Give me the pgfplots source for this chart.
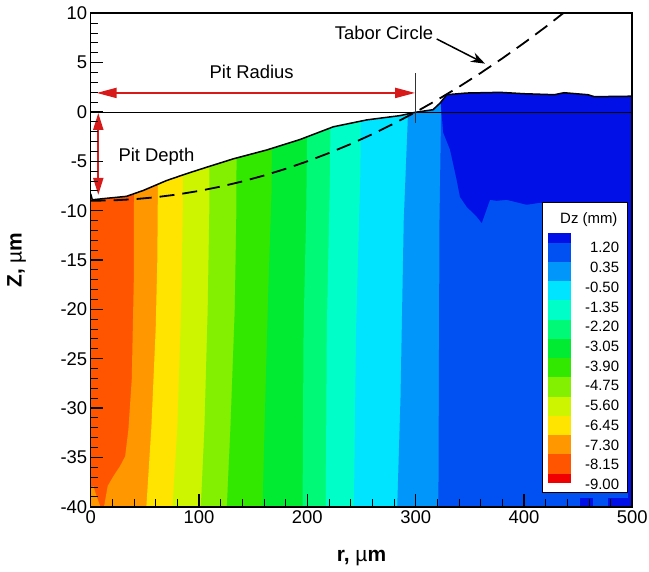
\documentclass[border=0pt]{standalone}
\usepackage{fontspec}
\setmainfont{Liberation Sans}
\usepackage{pgfplots}
\pgfplotsset{compat=1.18}
\usetikzlibrary{arrows.meta}

% contour level colours (Dz)
\definecolor{c1}{RGB}{0,16,230}
\definecolor{c2}{RGB}{0,80,242}
\definecolor{c3}{RGB}{0,150,250}
\definecolor{c4}{RGB}{0,228,255}
\definecolor{c5}{RGB}{0,255,200}
\definecolor{c6}{RGB}{0,250,120}
\definecolor{c7}{RGB}{0,235,50}
\definecolor{c8}{RGB}{50,232,0}
\definecolor{c9}{RGB}{130,240,0}
\definecolor{c10}{RGB}{205,245,0}
\definecolor{c11}{RGB}{255,228,0}
\definecolor{c12}{RGB}{255,152,0}
\definecolor{c13}{RGB}{255,85,0}
\definecolor{c14}{RGB}{240,0,0}
\definecolor{arrred}{RGB}{215,25,25}

\newcommand{\tfont}{\fontsize{18.5}{22}\selectfont}
\newcommand{\lfont}{\fontsize{21}{24}\selectfont}
\newcommand{\gfont}{\fontsize{15}{18}\selectfont}

\begin{document}
\begin{tikzpicture}
\begin{axis}[
  scale only axis,
  width=541.6bp, height=493.4bp,
  xmin=0, xmax=500, ymin=-40, ymax=10,
  xtick={0,100,...,500}, ytick={-40,-35,...,10},
  minor x tick num=4, minor y tick num=4,
  tick align=inside, tick pos=left,
  major tick length=12.7bp, minor tick length=7.7bp,
  every major tick/.append style={line width=1.6bp, black},
  every minor tick/.append style={line width=0.9bp, black},
  axis line style={line width=1.6bp},
  axis on top,
  ticklabel style={font=\tfont},
  /pgf/number format/assume math mode=true,
  xlabel={\textbf{r, }µ\textbf{m}},
  ylabel={\textbf{Z, }µ\textbf{m}},
  xlabel style={at={(axis description cs:0.5,-0.1034)}, anchor=center, font=\lfont},
  ylabel style={at={(axis description cs:-0.1366,0.5)}, anchor=center, font=\lfont},
]
% ---- contour bands, painted left to right ----
\addplot[draw=none, fill=c13] coordinates {(0,-40) (500,-40) (500,10) (0,10)} -- cycle;
\addplot[draw=none, fill=c12] coordinates {(12.3,-40) (15.7,-37.9) (21,-36.9) (27,-35.9) (31.8,-34.9) (34.8,-32.2) (37.9,-27.1) (39.8,-17) (40,-8) (40,10) (500,10) (500,-40)} -- cycle;
\addplot[draw=none, fill=c12] coordinates {(0,-40) (0,-38.2) (2.5,-37.9) (5,-38.8) (9,-40)} -- cycle;
\addplot[draw=none, fill=c11] coordinates {(51.4,-40) (56,-32) (60,-22) (61.5,-15) (62,-8) (62,10) (500,10) (500,-40)} -- cycle;
\addplot[draw=none, fill=c10] coordinates {(75.5,-40) (80,-32) (83.5,-20) (85,-10) (85,10) (500,10) (500,-40)} -- cycle;
\addplot[draw=none, fill=c9] coordinates {(101.7,-40) (105,-32) (108,-20) (109.5,-10) (110,10) (500,10) (500,-40)} -- cycle;
\addplot[draw=none, fill=c8] coordinates {(125.7,-40) (129,-32) (133,-20) (134.5,-10) (135,10) (500,10) (500,-40)} -- cycle;
\addplot[draw=none, fill=c7] coordinates {(158.7,-40) (161,-30) (164,-18) (167,-8) (168,10) (500,10) (500,-40)} -- cycle;
\addplot[draw=none, fill=c6] coordinates {(195.6,-40) (196.5,-22) (199,-10) (201,10) (500,10) (500,-40)} -- cycle;
\addplot[draw=none, fill=c5] coordinates {(217,-40) (218,-22) (221,-6) (222,10) (500,10) (500,-40)} -- cycle;
\addplot[draw=none, fill=c4] coordinates {(243,-40) (245,-22) (249,-6) (250,10) (500,10) (500,-40)} -- cycle;
\addplot[draw=none, fill=c3] coordinates {(283,-40) (286,-29) (289,-11) (293,0) (294,10) (500,10) (500,-40)} -- cycle;
\addplot[draw=none, fill=c2] coordinates {(321,-40) (322,-11) (323.5,0) (324,10) (500,10) (500,-40)} -- cycle;
% highest level region under the flat surface
\addplot[draw=none, fill=c1] coordinates {(322.5,10) (322.5,1.6) (325.5,-2.1) (331.7,-3.8) (337.9,-6.9) (340.9,-8.6) (347.1,-9.6) (356.3,-10.6) (361,-11.25) (368.6,-8.9) (374.8,-9.0) (384,-8.9) (402.5,-9.4) (414.8,-9.2) (500,-9.3) (500,10)} -- cycle;
\addplot[draw=none, fill=c1] coordinates {(496,-40) (496,10) (500,10) (500,-40)} -- cycle;
\addplot[draw=none, fill=c1] coordinates {(452,-40) (452,-39.1) (464,-39.1) (464,-40)} -- cycle;
\addplot[draw=none, fill=c1] coordinates {(478,-40) (478,-39.1) (500,-39.1) (500,-40)} -- cycle;
% ---- white above the pit surface ----
\addplot[draw=none, fill=white] coordinates {(0,-8.3) (1.5,-8.9) (10,-8.8) (33,-8.55) (48.6,-7.95) (70,-6.95) (88.6,-6.25) (107,-5.6) (131.6,-4.75) (162.5,-3.85) (193,-2.8) (224,-1.5) (255,-0.8) (285.5,-0.37) (299.4,-0.04) (316,0.23) (322.5,0.9) (328.7,1.75) (347,1.92) (378,1.99) (400,1.85) (428,1.75) (437,1.95) (459,1.75) (465,1.55) (500,1.6) (500,10) (0,10)} -- cycle;
% surface profile
\addplot[black, line width=1.5bp] coordinates {(0,-8.3) (1.5,-8.9) (10,-8.8) (33,-8.55) (48.6,-7.95) (70,-6.95) (88.6,-6.25) (107,-5.6) (131.6,-4.75) (162.5,-3.85) (193,-2.8) (224,-1.5) (255,-0.8) (285.5,-0.37) (299.4,-0.04) (316,0.23) (322.5,0.9) (328.7,1.75) (347,1.92) (378,1.99) (400,1.85) (428,1.75) (437,1.95) (459,1.75) (465,1.55) (500,1.6)};
% Tabor circle
\addplot[black, line width=1.8bp, dash pattern=on 15bp off 8bp] coordinates {(0,-9) (20,-8.96) (40,-8.84) (60,-8.64) (80,-8.36) (100,-8.0) (120,-7.56) (140,-7.04) (160,-6.44) (180,-5.76) (200,-5.0) (220,-4.16) (240,-3.25) (260,-2.25) (280,-1.17) (300,-0.01) (320,1.23) (340,2.55) (360,3.95) (380,5.43) (400,6.99) (420,8.62) (436,9.99)};
% reference lines
\addplot[black, line width=0.6bp] coordinates {(0,0) (500,0)};
\addplot[black!80, line width=0.6bp] coordinates {(300,-1.1) (300,4.0)};
% annotations
\draw[arrred, line width=2bp, {Triangle[length=20bp,width=10bp]}-{Triangle[length=20bp,width=10bp]}] (axis cs:5.5,1.93) -- (axis cs:299.5,1.93);
\draw[arrred, line width=2bp, {Triangle[length=17bp,width=10bp]}-{Triangle[length=17bp,width=10bp]}] (axis cs:7,-0.1) -- (axis cs:7,-8.4);
\draw[black, line width=1.5bp, -{Stealth[length=14bp,width=10bp]}] (axis cs:319.4,7.4) -- (axis cs:364,4.9);
\node[font=\tfont] at (axis cs:148.6,4.11) {Pit Radius};
\node[font=\tfont, anchor=west, inner sep=0pt] at (axis cs:25.5,-4.5) {Pit Depth};
\node[font=\tfont] at (axis cs:270.8,8.0) {Tabor Circle};
% ---- level legend ----
\draw[fill=white, line width=1bp] (axis cs:417.3,-9.19) rectangle (axis cs:495.8,-38.57);
\node[font=\gfont, anchor=east, inner sep=0pt] at (axis cs:486.5,-10.88) {Dz (mm)};
\fill[c1]  (axis cs:421.9,-12.27) rectangle (axis cs:443.4,-13.24);
\fill[c2]  (axis cs:421.9,-13.24) rectangle (axis cs:443.4,-15.19);
\fill[c3]  (axis cs:421.9,-15.19) rectangle (axis cs:443.4,-17.14);
\fill[c4]  (axis cs:421.9,-17.14) rectangle (axis cs:443.4,-19.09);
\fill[c5]  (axis cs:421.9,-19.09) rectangle (axis cs:443.4,-21.04);
\fill[c6]  (axis cs:421.9,-21.04) rectangle (axis cs:443.4,-22.99);
\fill[c7]  (axis cs:421.9,-22.99) rectangle (axis cs:443.4,-24.94);
\fill[c8]  (axis cs:421.9,-24.94) rectangle (axis cs:443.4,-26.89);
\fill[c9]  (axis cs:421.9,-26.89) rectangle (axis cs:443.4,-28.84);
\fill[c10] (axis cs:421.9,-28.84) rectangle (axis cs:443.4,-30.79);
\fill[c11] (axis cs:421.9,-30.79) rectangle (axis cs:443.4,-32.74);
\fill[c12] (axis cs:421.9,-32.74) rectangle (axis cs:443.4,-34.69);
\fill[c13] (axis cs:421.9,-34.69) rectangle (axis cs:443.4,-36.64);
\fill[c14] (axis cs:421.9,-36.64) rectangle (axis cs:443.4,-37.62);
\node[font=\gfont, anchor=east, inner sep=0pt] at (axis cs:488,-13.75) {1.20};
\node[font=\gfont, anchor=east, inner sep=0pt] at (axis cs:488,-15.75) {0.35};
\node[font=\gfont, anchor=east, inner sep=0pt] at (axis cs:488,-17.75) {-0.50};
\node[font=\gfont, anchor=east, inner sep=0pt] at (axis cs:488,-19.75) {-1.35};
\node[font=\gfont, anchor=east, inner sep=0pt] at (axis cs:488,-21.75) {-2.20};
\node[font=\gfont, anchor=east, inner sep=0pt] at (axis cs:488,-23.75) {-3.05};
\node[font=\gfont, anchor=east, inner sep=0pt] at (axis cs:488,-25.75) {-3.90};
\node[font=\gfont, anchor=east, inner sep=0pt] at (axis cs:488,-27.75) {-4.75};
\node[font=\gfont, anchor=east, inner sep=0pt] at (axis cs:488,-29.75) {-5.60};
\node[font=\gfont, anchor=east, inner sep=0pt] at (axis cs:488,-31.75) {-6.45};
\node[font=\gfont, anchor=east, inner sep=0pt] at (axis cs:488,-33.75) {-7.30};
\node[font=\gfont, anchor=east, inner sep=0pt] at (axis cs:488,-35.75) {-8.15};
\node[font=\gfont, anchor=east, inner sep=0pt] at (axis cs:488,-37.75) {-9.00};
\end{axis}
\pgfresetboundingbox
\path[use as bounding box] (current axis.south west) ++(-90.7bp,-65.3bp) rectangle ++(649bp,572bp);
\end{tikzpicture}
\end{document}
